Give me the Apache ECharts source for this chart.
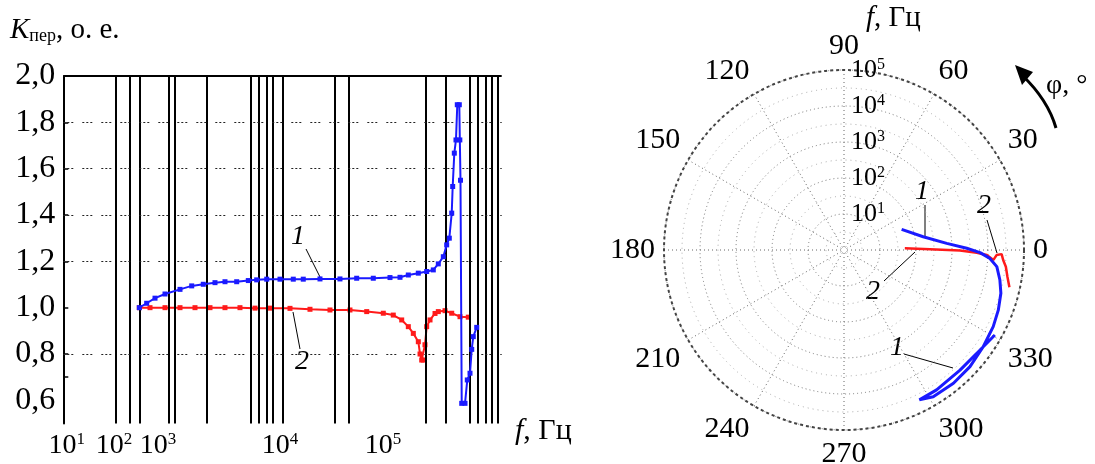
<!DOCTYPE html>
<html>
<head>
<meta charset="utf-8">
<script src="https://cdn.jsdelivr.net/npm/echarts@6/dist/echarts.min.js"></script>
<style>
html,body{margin:0;padding:0;background:#fff;}
#c{width:1095px;height:464px;}
</style>
</head>
<body>
<div id="c"></div>
<script>
// ---- Left chart data (x in axis position units along the log-frequency axis) ----
const xTickPos = [0.8, 11.57, 21.6, 49.44, 72.93];
const xTickExp = ['1', '2', '3', '4', '5'];
const xGridLines = [12.02, 15.21, 17.50, 23.95, 25.32, 32.71, 42.75, 44.48, 46.40, 47.76, 50.05, 61.98, 65.01, 82.66, 87.23, 92.61, 94.43, 96.35, 97.72, 99.09];
const yTickLabels = [0.6, 0.8, 1.0, 1.2, 1.4, 1.6, 1.8, 2.0];
const yDottedLines = [0.8, 1.2, 1.4, 1.6, 1.8];
const yTicks = [0.7, 0.8, 1.0, 1.2, 1.4, 1.6, 1.8];

const blueX = [17.34,19.02,20.92,23.20,26.62,29.29,31.93,34.60,36.88,39.55,42.20,44.11,46.40,49.43,52.46,54.74,58.55,63.11,66.92,70.71,74.52,76.80,78.70,80.98,82.89,84.40,85.54,86.68,87.45,88.05,88.60,88.82,89.19,89.57,89.87,90.33,90.45,90.60,90.88,91.63,92.15,92.77,93.16,93.52,94.30];
const blueY = [1.000,1.019,1.041,1.059,1.079,1.094,1.101,1.108,1.112,1.112,1.117,1.120,1.123,1.123,1.123,1.123,1.124,1.124,1.127,1.127,1.130,1.131,1.141,1.149,1.156,1.163,1.189,1.220,1.271,1.300,1.408,1.523,1.667,1.724,1.876,1.876,1.724,1.55,0.587,0.587,0.688,0.717,0.820,0.875,0.915];

const redX = [17.34,19.78,23.20,26.62,30.04,33.46,36.88,40.30,43.73,47.15,51.71,56.27,60.83,65.39,69.21,72.99,75.27,77.19,78.70,79.84,80.98,81.37,81.75,82.12,82.50,82.89,83.65,84.79,85.54,87.07,88.60,90.49,92.38];
const redY = [1.000,1.000,1.000,1.000,1.000,1.000,1.000,1.000,0.998,0.998,0.997,0.993,0.990,0.990,0.983,0.976,0.968,0.947,0.918,0.889,0.853,0.800,0.774,0.774,0.840,0.918,0.947,0.975,0.983,0.987,0.976,0.961,0.959];

// ---- Polar chart data: radius = decades (10^r Hz), angle = phase in degrees ----
const radiusTickExp = [1, 2, 3, 4, 5];
const angleTicks = [0, 30, 60, 90, 120, 150, 180, 210, 240, 270, 300, 330];
const polarBlueR = [1.70,2.23,2.86,3.41,3.78,4.06,4.27,4.41,4.52,4.60,4.66,4.71,4.77,4.79,4.77,4.66,4.66,4.64,4.69,4.81];
const polarBlueA = [19.7,9.5,3.7,0.8,-1.1,-3.3,-6.2,-10.9,-15.4,-21.3,-27.2,-34.8,-42.8,-50.6,-58.7,-63.3,-56.5,-46.0,-36.3,-29.4];
const polarRedR = [1.69,2.39,3.22,3.69,3.97,4.16,4.24,4.38,4.43,4.52,4.60,4.71];
const polarRedA = [1.6,0.5,-0.3,-1.2,-2.0,-3.8,-1.9,-1.5,-3.6,-5.9,-9.3,-12.7];

const FONT = '"Liberation Serif", "Times New Roman", serif';
const BLUE = '#1a1aff';
const RED = '#ff1a1a';

function zip(a, b) { return a.map((v, i) => [v, b[i]]); }
function toAxisAngle(a) { let v = a; while (v < 90) v += 360; while (v >= 450) v -= 360; return v; }
function polarData(r, a) { return r.map((v, i) => [v, toAxisAngle(a[i])]); }

const chart = echarts.init(document.getElementById('c'), null, {renderer: 'canvas'});

const gridMarkLines = [];
xGridLines.forEach(v => gridMarkLines.push({xAxis: v, lineStyle: {color: '#000', width: 2, type: 'solid'}}));
yDottedLines.forEach(v => gridMarkLines.push({yAxis: v, lineStyle: {color: '#222', width: 1.2, type: [2, 2, 2, 2, 2, 9]}}));
gridMarkLines.push({yAxis: 2.0, lineStyle: {color: '#000', width: 2, type: 'solid'}});

const option = {
  animation: false,
  backgroundColor: '#fff',
  grid: {left: 63.3, top: 76, width: 438.4, height: 347.5, containLabel: false},
  xAxis: {
    type: 'value', min: 0, max: 100,
    axisLine: {show: false}, axisTick: {show: false}, splitLine: {show: false},
    axisLabel: {
      customValues: xTickPos, margin: 8, color: '#000',
      fontFamily: FONT, fontSize: 28,
      formatter: function (v) {
        let idx = xTickPos.findIndex(p => Math.abs(p - v) < 1e-6);
        return idx < 0 ? '' : '10{s|' + xTickExp[idx] + '}';
      },
      rich: {
        s: {fontFamily: FONT, fontSize: 17, lineHeight: 17, verticalAlign: 'top', color: '#000'}
      }
    }
  },
  yAxis: {
    type: 'value', min: 0.5, max: 2.0, interval: 0.1,
    axisLine: {show: true, lineStyle: {color: '#000', width: 2}},
    axisTick: {show: true, inside: true, length: 5, customValues: yTicks, lineStyle: {color: '#000', width: 1.5}},
    splitLine: {show: false},
    axisLabel: {
      customValues: yTickLabels, margin: 8, color: '#000',
      fontFamily: FONT, fontSize: 32,
      formatter: v => v.toFixed(1).replace('.', ',')
    }
  },
  polar: {center: [844, 250], radius: 180},
  angleAxis: {
    type: 'value', min: 90, max: 450, interval: 30, startAngle: 90, clockwise: false,
    axisLine: {show: true, lineStyle: {color: '#444', width: 2, type: [3, 3]}},
    axisTick: {show: false},
    axisLabel: {
      show: true, margin: 9, color: '#000', fontFamily: FONT, fontSize: 30,
      formatter: function (v) {
        if (v >= 450) return '';
        const a = ((v % 360) + 360) % 360;
        return angleTicks.indexOf(a) >= 0 ? String(a) : '';
      }
    },
    splitLine: {show: true, lineStyle: {color: '#666', width: 1, type: [1, 3]}}
  },
  radiusAxis: {
    type: 'value', min: 0, max: 5, interval: 1,
    axisLine: {show: false},
    axisTick: {show: false},
    minorTick: {show: false, splitNumber: 2},
    minorSplitLine: {show: true, lineStyle: {color: '#aaa', width: 1, type: [1, 4]}},
    splitLine: {show: true, lineStyle: {color: '#777', width: 1, type: [1, 3]}},
    axisLabel: {
      margin: -7, align: 'left', color: '#000',
      fontFamily: FONT, fontSize: 26,
      formatter: function (v) {
        return radiusTickExp.indexOf(v) >= 0 ? '10{s|' + v + '}' : '';
      },
      rich: {
        s: {fontFamily: FONT, fontSize: 16, lineHeight: 16, verticalAlign: 'top', color: '#000'}
      }
    }
  },
  series: [
    {
      type: 'line', xAxisIndex: 0, yAxisIndex: 0, data: [], silent: true, z: 1,
      markLine: {silent: true, symbol: 'none', label: {show: false}, animation: false, data: gridMarkLines}
    },
    {
      name: 'curve1', type: 'line', data: zip(blueX, blueY), z: 5,
      lineStyle: {color: BLUE, width: 2}, itemStyle: {color: BLUE},
      symbol: 'rect', symbolSize: 5, showAllSymbol: true
    },
    {
      name: 'curve2', type: 'line', data: zip(redX, redY), z: 4,
      lineStyle: {color: RED, width: 2}, itemStyle: {color: RED},
      symbol: 'rect', symbolSize: 5, showAllSymbol: true
    },
    {
      name: 'polar1', type: 'line', coordinateSystem: 'polar', polarIndex: 0,
      data: polarData(polarBlueR, polarBlueA), symbol: 'none', z: 5,
      lineStyle: {color: BLUE, width: 3}
    },
    {
      name: 'polar2', type: 'line', coordinateSystem: 'polar', polarIndex: 0,
      data: polarData(polarRedR, polarRedA), symbol: 'none', z: 4,
      lineStyle: {color: RED, width: 2.5}
    }
  ],
  graphic: [
    {type: 'text', left: 10, top: 16, style: {
      text: '{k|K}{sub|пер}{t|, о. е.}',
      rich: {
        k: {fontFamily: FONT, fontSize: 29, fontStyle: 'italic', fill: '#000'},
        sub: {fontFamily: FONT, fontSize: 18, fill: '#000', verticalAlign: 'bottom', padding: [12, 0, 0, 0]},
        t: {fontFamily: FONT, fontSize: 29, fill: '#000'}
      }
    }},
    {type: 'text', left: 515, top: 416, style: {
      text: '{i|f}{t|, Гц}',
      rich: {i: {fontFamily: FONT, fontSize: 30, fontStyle: 'italic', fill: '#000'}, t: {fontFamily: FONT, fontSize: 30, fill: '#000'}}
    }},
    {type: 'text', left: 866, top: 4, style: {
      text: '{i|f}{t|, Гц}',
      rich: {i: {fontFamily: FONT, fontSize: 29, fontStyle: 'italic', fill: '#000'}, t: {fontFamily: FONT, fontSize: 29, fill: '#000'}}
    }},
    {type: 'text', left: 1046, top: 72, style: {text: 'φ, °', fontFamily: FONT, fontSize: 28, fill: '#000'}},
    {type: 'bezierCurve', shape: {x1: 1056, y1: 128, x2: 1022, y2: 75, cpx1: 1048, cpy1: 100}, style: {stroke: '#000', lineWidth: 3, fill: 'none'}},
    {type: 'polygon', shape: {points: [[1015, 65], [1022, 85], [1033, 72]]}, style: {fill: '#000'}},
    // left chart annotations
    {type: 'text', x: 298, y: 237, style: {text: '1', fontFamily: FONT, fontSize: 28, fontStyle: 'italic', fill: '#000', align: 'center', verticalAlign: 'middle'}},
    {type: 'line', shape: {x1: 306, y1: 249, x2: 320, y2: 277}, style: {stroke: '#000', lineWidth: 1}},
    {type: 'text', x: 302, y: 362, style: {text: '2', fontFamily: FONT, fontSize: 28, fontStyle: 'italic', fill: '#000', align: 'center', verticalAlign: 'middle'}},
    {type: 'line', shape: {x1: 293, y1: 312, x2: 300, y2: 349}, style: {stroke: '#000', lineWidth: 1}},
    // polar annotations
    {type: 'text', x: 922, y: 192, style: {text: '1', fontFamily: FONT, fontSize: 28, fontStyle: 'italic', fill: '#000', align: 'center', verticalAlign: 'middle'}},
    {type: 'line', shape: {x1: 925, y1: 205, x2: 925, y2: 238}, style: {stroke: '#000', lineWidth: 1}},
    {type: 'text', x: 984, y: 206, style: {text: '2', fontFamily: FONT, fontSize: 28, fontStyle: 'italic', fill: '#000', align: 'center', verticalAlign: 'middle'}},
    {type: 'line', shape: {x1: 987, y1: 220, x2: 997, y2: 253}, style: {stroke: '#000', lineWidth: 1}},
    {type: 'text', x: 873, y: 292, style: {text: '2', fontFamily: FONT, fontSize: 28, fontStyle: 'italic', fill: '#000', align: 'center', verticalAlign: 'middle'}},
    {type: 'line', shape: {x1: 884, y1: 281, x2: 915, y2: 252}, style: {stroke: '#000', lineWidth: 1}},
    {type: 'text', x: 897, y: 348, style: {text: '1', fontFamily: FONT, fontSize: 28, fontStyle: 'italic', fill: '#000', align: 'center', verticalAlign: 'middle'}},
    {type: 'line', shape: {x1: 904, y1: 354, x2: 953, y2: 368}, style: {stroke: '#000', lineWidth: 1}}
  ]
};
chart.setOption(option);
</script>
</body>
</html>
